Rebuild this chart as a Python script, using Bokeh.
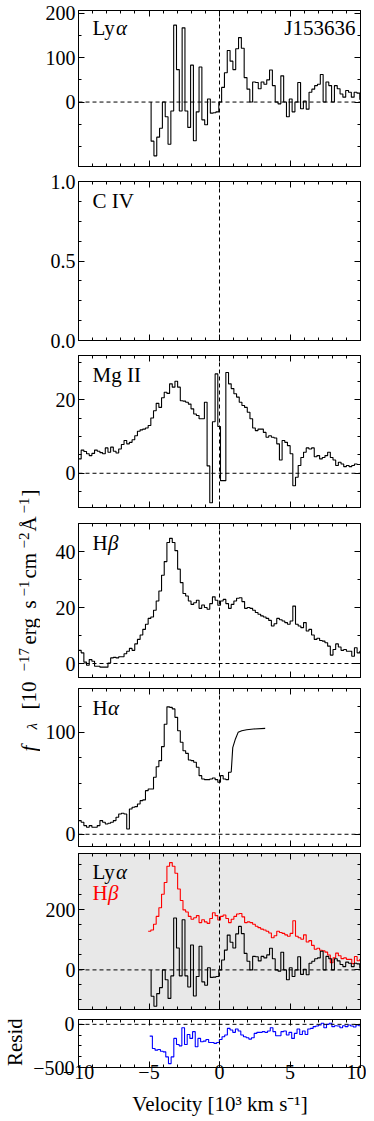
import numpy as np
from math import pi
from bokeh.plotting import figure
from bokeh.models import Range1d, LinearAxis, FixedTicker, Span, Label
from bokeh.layouts import column, row
from bokeh.embed import file_html
from bokeh.resources import INLINE

# ---------------- data (velocity in 10^3 km/s) ----------------
x_ticks = [-10, -5, 0, 5, 10]
x_minor = [-9, -8, -7, -6, -4, -3, -2, -1, 1, 2, 3, 4, 6, 7, 8, 9]
x_labels = {-10: "−10", -5: "−5", 0: "0", 5: "5", 10: "10"}

# Ly-alpha (binned)
lya_start, lya_width = -4.85, 0.2
lya_flux = [-88, -121, -79, -59, 0, -33, -95, -20, 173, 73,
            -20, 167, -20, -57, 83, -87, -22, 79, -40, -51,
            7, -25, -24, -22, 0, 33, 66, 116, 92, 73,
            120, 145, 121, 55, 29, 0, 45, 44, 30, 45,
            40, 50, 72, 37, 0, -4, 59, 0, -33, 7,
            -22, 0, 44, -15, 2, -16, 22, 29, 37, 40,
            62, 0, 45, 37, 0, 37, 30, 18, 11, 26,
            22, 11, 22, 20, 6]

# Mg II
mg_start, mg_width = -10.0, 0.19
mg_flux = [3.9, 6.3, 5.9, 5.3, 4.8, 5.4, 6.3, 6.0, 5.6, 5.3,
           6.9, 5.7, 7.1, 6.0, 5.5, 6.6, 7.8, 8.9, 8.0, 8.4,
           9.1, 10.2, 11.4, 11.8, 12.0, 12.3, 13.0, 15.0, 17.0, 19.0,
           17.9, 20.5, 22.0, 21.7, 24.3, 23.4, 25.0, 23.4, 19.7, 19.6,
           19.3, 18.8, 17.5, 16.1, 15.7, 14.8, 14.8, 19.3, 2.0, -8.0,
           14.0, 27.0, 12.7, -2.0, -2.0, 27.4, 24.3, 23.0, 21.6, 20.7,
           19.3, 18.4, 17.9, 16.6, 14.8, 12.3, 11.6, 12.0, 12.0, 11.1,
           9.8, 10.2, 9.8, 9.6, 8.0, 3.6, 8.9, 8.4, 7.5, 5.3,
           -3.4, -1.1, 2.1, 4.3, 5.7, 6.9, 6.6, 6.9, 4.5, 4.8,
           3.9, 4.3, 4.8, 5.7, 4.3, 3.6, 2.1, 3.0, 2.5, 1.8,
           2.1, 1.8, 2.1, 2.5, 2.4, 2.4]

# H-beta
hb_start, hb_width = -10.0, 0.19
hb_flux = [4.7, 3.8, 0.5, -0.6, 1.4, 0.8, -1.0, -1.0, -1.3, -1.3,
           -1.3, 0.2, 2.0, 2.2, 2.0, 2.4, 2.4, 3.5, 4.4, 5.4,
           4.7, 7.0, 8.6, 10.2, 12.2, 14.0, 16.1, 16.6, 19.0, 22.3,
           25.9, 31.5, 36.4, 43.2, 44.7, 43.2, 40.3, 33.7, 28.9, 25.0,
           24.1, 22.3, 21.1, 21.7, 22.6, 19.7, 20.9, 20.0, 19.4, 21.4,
           23.8, 22.6, 20.8, 22.3, 22.9, 21.4, 19.7, 21.1, 22.3, 23.3,
           23.5, 22.1, 19.7, 20.0, 19.7, 19.0, 18.2, 17.6, 17.0, 16.6,
           16.1, 15.4, 13.4, 14.2, 16.1, 15.6, 15.2, 14.6, 14.0, 15.2,
           20.5, 14.0, 13.4, 12.8, 14.6, 11.6, 12.2, 10.2, 8.6, 9.0,
           8.2, 8.0, 7.4, 6.2, 3.0, 5.0, 7.0, 5.9, 4.7, 5.0,
           4.4, 4.4, 2.6, 5.6, 3.8, 4.4]
hb_scale = 8.0          # H-beta scaling used in the comparison panel
hb_overlay_from = -5.0  # velocity where the scaled H-beta starts

# H-alpha
ha_start, ha_width = -10.0, 0.19
ha_flux = [13.4, 11.8, 8.5, 6.9, 8.5, 6.9, 6.9, 8.5, 13.4, 11.8,
           10.1, 10.8, 11.8, 13.4, 16.7, 19.9, 20.6, 19.9, 5.2, 24.8,
           26.5, 27.1, 29.7, 33.0, 33.7, 42.8, 44.4, 44.4, 55.9, 66.3,
           72.2, 86.0, 108.0, 125.0, 124.5, 123.0, 114.7, 101.6, 90.2, 82.0,
           79.4, 72.9, 72.2, 70.6, 65.7, 57.5, 54.2, 53.6, 53.6, 54.2,
           55.2, 53.6, 51.0, 57.5, 54.2, 53.6, 60.8]
ha_tail_v = [0.83, 0.94, 1.13, 1.32, 1.58, 1.93, 2.41, 3.24]
ha_tail_f = [60.8, 85.0, 93.5, 100.0, 101.6, 102.6, 103.3, 103.9]

# residual (Ly-alpha minus scaled H-beta)
res_start, res_width = -4.95, 0.19
res_flux = [-136, -280, -299, -291, -311, -319, -377, -455, -377, -163,
            -233, -249, -39, -233, -117, -163, -85, -260, -163, -202,
            -194, -175, -210, -210, -221, -210, -175, -144, -124, -47,
            -66, -93, -54, -78, -124, -144, -155, -171, -155, -105,
            -93, -93, -85, -93, -78, -39, -85, -132, -132, -85,
            -78, -124, -93, -163, -105, -54, -117, -78, -117, -54,
            -47, -27, -19, -8, 12, -39, 0, 12, -27, -16,
            -19, -39, -16, -27, -8, -19, -31, -8, -16]

# ---------------- style / layout ----------------
FONT = "Liberation Serif"
TICK_FS = "20px"
LAB_FS = "21px"
YL_FS = "21px"
SUP_FS = "15px"
LW = 40            # width of the y-label strip
RW = 27            # width of the "Resid." strip
TOTAL_W = 366
RB = 6             # right border
DASH = "4 3"


def step_xy(start, width, vals, from_zero=False):
    x = list(start + width * np.arange(len(vals) + 1))
    y = list(vals) + [vals[-1]]
    if from_zero:
        x = [x[0]] + x
        y = [0] + y
    return x, y


def make_panel(ylo, yhi, yt, ym, ylab, bt, fh, bb, left, width,
               bg="#ffffff", xlab=False, hline=True, lstand=3):
    p = figure(width=width, height=bt + fh + bb,
               x_range=Range1d(-10, 10), y_range=Range1d(ylo, yhi),
               toolbar_location=None, output_backend="svg",
               min_border_left=left, min_border_right=RB,
               min_border_top=bt, min_border_bottom=bb,
               background_fill_color=bg, border_fill_color="white",
               outline_line_color="black", outline_line_width=1)
    p.grid.visible = False
    p.add_layout(LinearAxis(), "right")
    p.add_layout(LinearAxis(), "above")
    for ax in list(p.xaxis) + list(p.yaxis):
        ax.major_tick_in = 6
        ax.major_tick_out = 0
        ax.minor_tick_in = 3
        ax.minor_tick_out = 0
        ax.axis_line_color = "black"
        ax.major_tick_line_color = "black"
        ax.minor_tick_line_color = "black"
        ax.major_label_text_font = FONT
        ax.major_label_text_font_size = TICK_FS
        ax.major_label_text_color = "black"
    for ax in p.xaxis:
        ax.ticker = FixedTicker(ticks=x_ticks, minor_ticks=x_minor)
        ax.major_label_overrides = x_labels
    for ax in p.yaxis:
        ax.ticker = FixedTicker(ticks=yt, minor_ticks=ym)
        ax.major_label_overrides = ylab
    hidden = [p.right[0], p.above[0]]
    if not xlab:
        hidden.append(p.below[0])
    for ax in hidden:
        ax.major_label_text_font_size = "1px"
        ax.major_label_text_color = None
        ax.major_label_standoff = 0
        ax.axis_label_standoff = 0
    p.left[0].major_label_standoff = lstand
    p.add_layout(Span(location=0, dimension="height", line_color="black",
                      line_dash=DASH, line_width=1))
    if hline:
        p.add_layout(Span(location=0, dimension="width", line_color="black",
                          line_dash=DASH, line_width=1))
    return p


def add_text(p, x, y, text, color="black", italic=False, x_off=0, y_off=-7,
             align="left", fs=LAB_FS, baseline="top", angle=0):
    p.add_layout(Label(x=x, y=y, text=text, x_offset=x_off, y_offset=y_off,
                       text_font=FONT, text_font_size=fs, text_color=color,
                       text_font_style="italic" if italic else "normal",
                       text_baseline=baseline, text_align=align, angle=angle))


def strip(w, h):
    return figure(width=w, height=h, x_range=Range1d(0, w), y_range=Range1d(0, h),
                  x_axis_type=None, y_axis_type=None, toolbar_location=None,
                  output_backend="svg", min_border=0, outline_line_color=None)


PW = TOTAL_W - LW
PL = 78 - LW

# Panel 1: Ly-alpha
P1_TOP = 206
p1 = make_panel(-145, P1_TOP, [0, 100, 200], [-100, -50, 50, 150],
                {0: "0", 100: "100", 200: "200"}, 10, 156, 2, PL, PW)
x, y = step_xy(lya_start, lya_width, lya_flux, from_zero=True)
p1.step(x, y, mode="after", line_color="black", line_width=1.1)
add_text(p1, -9, P1_TOP, "Ly", y_off=-5)
add_text(p1, -9, P1_TOP, "α", italic=True, x_off=23.5, y_off=-5)
add_text(p1, 9.64, P1_TOP, "J153636", align="right", y_off=-5)

# Panel 2: C IV (no data)
p2 = make_panel(0, 1, [0, 0.5, 1], [0.125, 0.25, 0.375, 0.625, 0.75, 0.875],
                {0: "0.0", 0.5: "0.5", 1: "1.0"}, 13, 159, 13, PL, PW, hline=False)
add_text(p2, -9, 1, "C IV")

# Panel 3: Mg II
p3 = make_panel(-9.3, 32, [0, 20], [-5, 5, 10, 15, 25, 30],
                {0: "0", 20: "20"}, 2, 152, 8, PL, PW)
x, y = step_xy(mg_start, mg_width, mg_flux)
p3.step(x, y, mode="after", line_color="black", line_width=1.1)
add_text(p3, -9, 32, "Mg II")

# Panel 4: H-beta
p4 = make_panel(-5, 50, [0, 20, 40], [10, 30],
                {0: "0", 20: "20", 40: "40"}, 8, 154, 5, PL, PW)
x, y = step_xy(hb_start, hb_width, hb_flux)
p4.step(x, y, mode="after", line_color="black", line_width=1.1)
add_text(p4, -9, 50, "H")
add_text(p4, -9, 50, "β", italic=True, x_off=15.3)

# Panel 5: H-alpha
p5 = make_panel(-12, 143, [0, 100], [25, 50, 75, 125],
                {0: "0", 100: "100"}, 6, 158, 3, PL, PW)
x, y = step_xy(ha_start, ha_width, ha_flux)
p5.step(x, y, mode="after", line_color="black", line_width=1.1)
p5.line(ha_tail_v, ha_tail_f, line_color="black", line_width=1.1)
add_text(p5, -9, 143, "H")
add_text(p5, -9, 143, "α", italic=True, x_off=15.3)

# Panel 6: Ly-alpha vs scaled H-beta
p6 = make_panel(-132, 388, [0, 200], [-100, -50, 50, 100, 150, 250, 300, 350],
                {0: "0", 200: "200"}, 4, 156, 2, PL, PW, bg="#e8e8e8")
k0 = int(round((hb_overlay_from - hb_start) / hb_width))
hb_over = [hb_scale * v for v in hb_flux[k0:]]
x, y = step_xy(hb_start + k0 * hb_width, hb_width, hb_over)
p6.step(x, y, mode="after", line_color="#ff0000", line_width=1.1)
x, y = step_xy(lya_start, lya_width, lya_flux, from_zero=True)
p6.step(x, y, mode="after", line_color="black", line_width=1.1)
add_text(p6, -9, 388, "Ly", y_off=-6)
add_text(p6, -9, 388, "α", italic=True, x_off=23.5, y_off=-6)
add_text(p6, -9, 388, "H", color="#ff0000", y_off=-27)
add_text(p6, -9, 388, "β", color="#ff0000", italic=True, x_off=15.3, y_off=-27)

# Panel 7: residual
P7_TOP, P7_FH, P7_BOT = 8, 48, 21
p7 = make_panel(-500, 56, [-500, 0], [-375, -250, -125],
                {-500: "−500", 0: "0"}, P7_TOP, P7_FH, P7_BOT, 78 - RW,
                TOTAL_W - RW, xlab=True, lstand=4)
x, y = step_xy(res_start, res_width, res_flux)
p7.step(x, y, mode="after", line_color="#0000ff", line_width=1.1)
p7.below[0].major_label_standoff = -3

panels = [p1, p2, p3, p4, p5, p6]
H16 = sum(p.height for p in panels)

# y-label strip (pieces placed along the rotated label)
lab = strip(LW, H16)
yl_parts = [  # (text, bottom y from top, x, font size, italic)
    ("f", 751, 28, YL_FS, True),
    ("λ", 729, 31, SUP_FS, True),
    ("[10", 709, 28, YL_FS, False),
    ("−17", 671, 23, SUP_FS, False),
    ("erg", 644, 28, YL_FS, False),
    ("s", 608, 28, YL_FS, False),
    ("−1", 596, 23, SUP_FS, False),
    ("cm", 578, 28, YL_FS, False),
    ("−2", 548, 23, SUP_FS, False),
    ("Å", 531, 28, YL_FS, False),
    ("−1", 513, 23, SUP_FS, False),
    ("]", 496, 28, YL_FS, False),
]
for t, py, px, fs, it in yl_parts:
    lab.add_layout(Label(x=px, y=H16 - py, text=t, angle=pi / 2, text_font=FONT,
                         text_font_size=fs,
                         text_font_style="italic" if it else "normal",
                         text_align="left", text_baseline="middle",
                         text_color="black"))

# "Resid." strip
rs = strip(RW, p7.height)
add_text(rs, 14, p7.height - P7_TOP - P7_FH / 2, "Resid.", y_off=0,
         align="center", baseline="middle", angle=pi / 2)

# x-axis title strip
VH = 30
vs = strip(TOTAL_W, VH)
add_text(vs, 219.5, VH - 15, "Velocity [10³ km s⁻¹]", y_off=0,
         align="center", baseline="middle")

layout = column(row(lab, column(*panels)), row(rs, p7), vs)

open("out.html", "w").write(file_html(layout, INLINE))
